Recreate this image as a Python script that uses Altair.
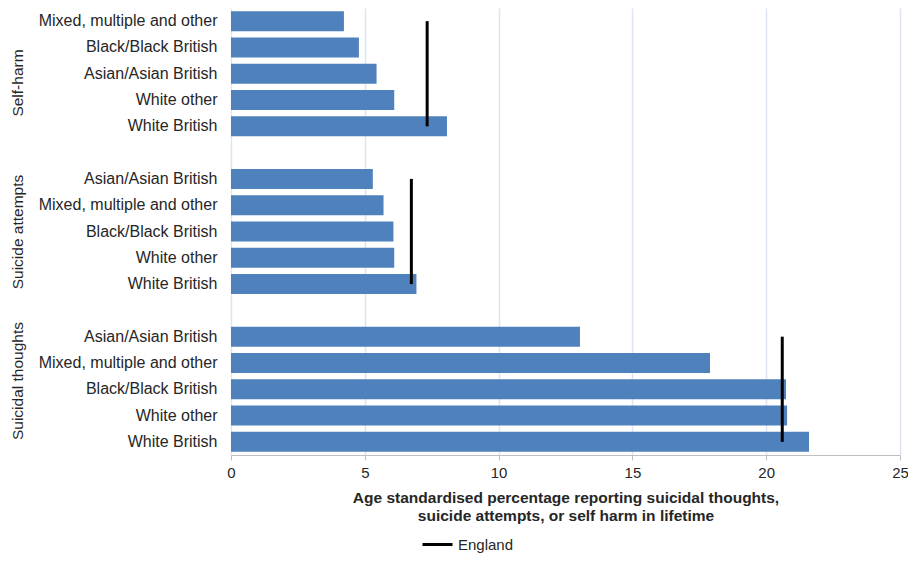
import altair as alt
import pandas as pd

groups = ["Self-harm", "Suicide attempts", "Suicidal thoughts"]
categories = {
    "Self-harm": ["Mixed, multiple and other", "Black/Black British", "Asian/Asian British", "White other", "White British"],
    "Suicide attempts": ["Asian/Asian British", "Mixed, multiple and other", "Black/Black British", "White other", "White British"],
    "Suicidal thoughts": ["Asian/Asian British", "Mixed, multiple and other", "Black/Black British", "White other", "White British"],
}
values = {
    "Self-harm": [4.22, 4.78, 5.44, 6.1, 8.07],
    "Suicide attempts": [5.3, 5.7, 6.07, 6.1, 6.93],
    "Suicidal thoughts": [13.04, 17.9, 20.74, 20.78, 21.6],
}
england = [7.33, 6.74, 20.6]
x_ticks = [0, 5, 10, 15, 20, 25]

rows = []
domain = []
for gi, g in enumerate(groups):
    for c, v in zip(categories[g], values[g]):
        k = g + "|" + c
        rows.append({"group": g, "cat": c, "key": k, "value": v})
        domain.append(k)
    if gi < len(groups) - 1:
        domain.append("gap%d" % gi)
bars_df = pd.DataFrame(rows)

eng_rows = []
for g, e in zip(groups, england):
    eng_rows.append({"group": g, "series": "England", "england": e,
                     "k1": g + "|" + categories[g][0], "k2": g + "|" + categories[g][-1]})
eng_df = pd.DataFrame(eng_rows)

FONT = "Liberation Sans"
TXT = "#262626"

key_scale = alt.Scale(domain=domain, paddingInner=0.24, paddingOuter=0.12)
key_axis = alt.Axis(title=None, ticks=False, domain=False, labelPadding=14,
                    labelFontSize=16, labelFont=FONT, labelColor=TXT, labelLimit=300,
                    labelExpr="indexof(datum.value,'|')>=0 ? (split(datum.value,'|')[1] == 'White British' ? 'White British\u00a0' : split(datum.value,'|')[1]) : ''")

xenc = alt.X("value:Q",
             scale=alt.Scale(domain=[0, 25], nice=False),
             axis=alt.Axis(values=x_ticks, title=["Age standardised percentage reporting suicidal thoughts,",
                                                  "suicide attempts, or self harm in lifetime"],
                           grid=True, gridColor="#dce5f1", gridWidth=1.5, labelFlush=False,
                           domainColor="#bfbfbf", tickColor="#bfbfbf", tickSize=5,
                           labelPadding=5, labelFontSize=15, labelFont=FONT, labelColor=TXT,
                           titleFont=FONT, titleFontSize=15.5, titleFontWeight="bold", titleColor=TXT,
                           titlePadding=10, titleLineHeight=18))

bars = alt.Chart(bars_df).mark_bar(color="#4f81bd").encode(
    x=xenc,
    y=alt.Y("key:N", scale=key_scale, axis=key_axis),
)

rule = alt.Chart(eng_df).mark_rule(strokeWidth=3).encode(
    x=alt.X("england:Q"),
    y=alt.Y("k1:N", scale=key_scale, axis=key_axis),
    y2="k2:N",
    color=alt.Color("series:N", scale=alt.Scale(domain=["England"], range=["black"]),
                    legend=alt.Legend(title=None, orient="none", legendX=190, legendY=520,
                                      symbolType="stroke", symbolSize=900, symbolStrokeWidth=3,
                                      labelFontSize=15, labelFont=FONT, labelColor=TXT)),
)

grp = alt.Chart(eng_df).mark_point(opacity=0).encode(
    x=alt.X("england:Q"),
    y=alt.Y("group:N", scale=alt.Scale(domain=groups, paddingInner=1/6, paddingOuter=0),
            axis=alt.Axis(orient="left", title=None, ticks=False, domain=False, grid=False,
                          offset=206, labelPadding=0, labelAngle=-90, labelAlign="center",
                          labelBaseline="bottom", labelFontSize=15.5, labelFont=FONT, labelColor=TXT)),
)

chart = alt.layer(alt.layer(bars, rule), grp).resolve_scale(y="independent").properties(
    width=669, height=447,
    autosize=alt.AutoSizeParams(type="none"),
    padding={"left": 223, "top": 0, "right": 8, "bottom": 101},
).configure_view(stroke=None)

chart.save("out.html", embed_options={"renderer": "svg", "actions": False})
